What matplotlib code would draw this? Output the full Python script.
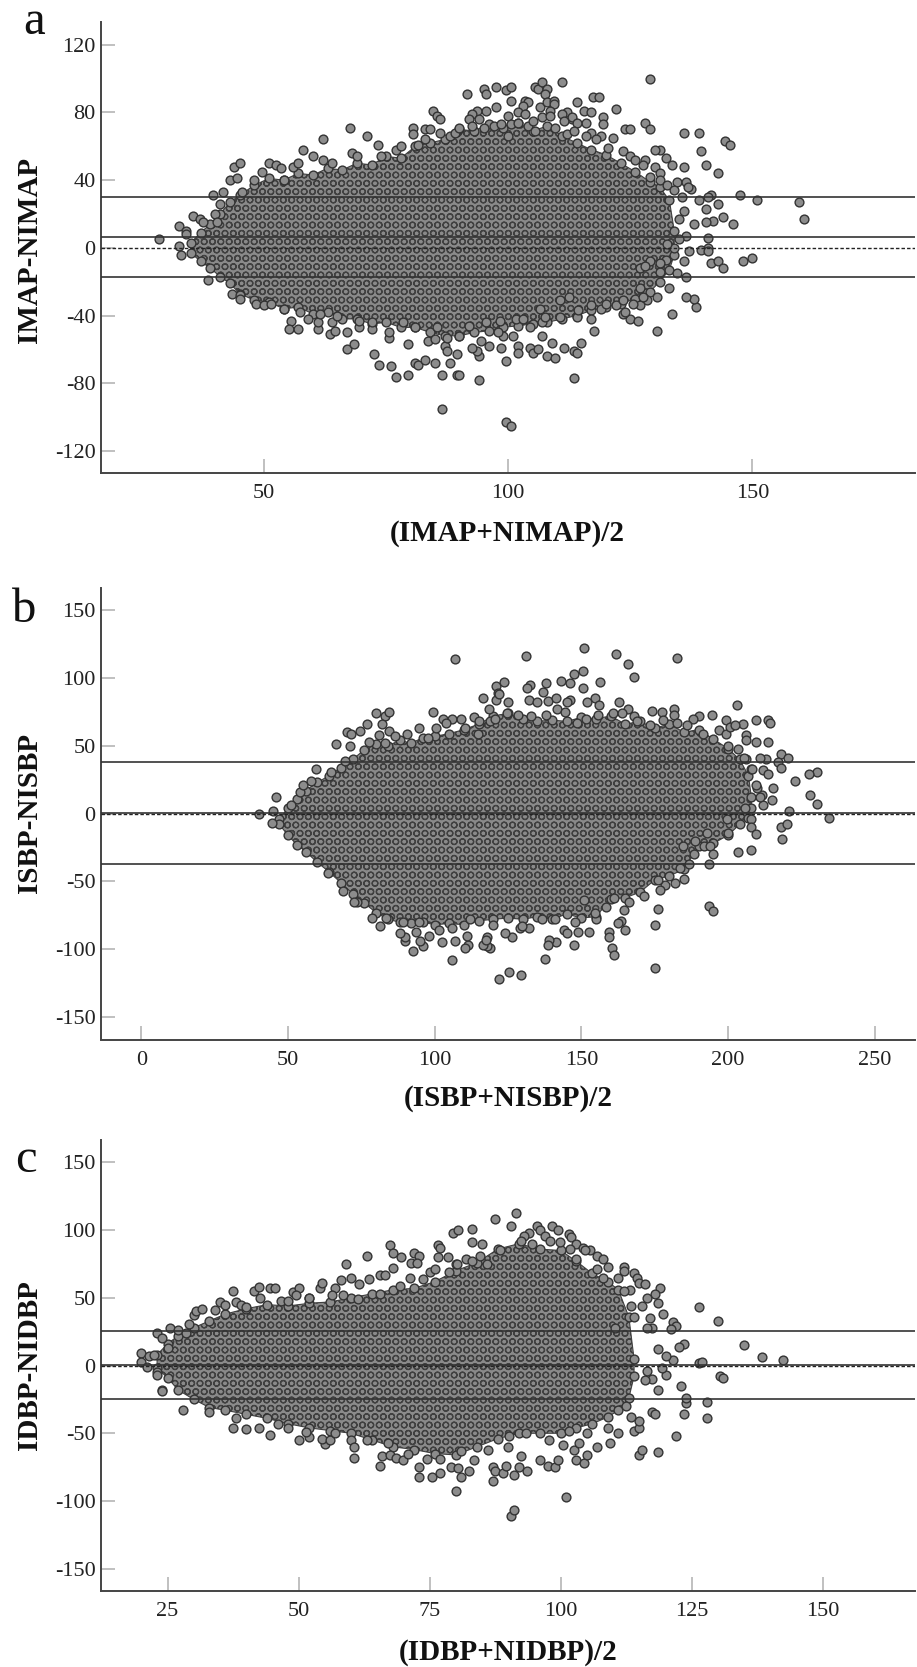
import matplotlib
matplotlib.use('Agg')
from matplotlib import pyplot as plt

plt.rcParams['font.family'] = ['Liberation Serif', 'DejaVu Serif']
plt.rcParams['axes.unicode_minus'] = False
plt.rcParams['hatch.linewidth'] = 0.9
plt.rcParams['hatch.color'] = '#404040'

# Single points (mostly the loose ones round each cloud).
a_points = [
    (28.5,5),(32.5,13),(34,10),(34,8),(32.5,1),(33,-4),(35.4,19),(36.9,17),(37.4,15),(39.5,31),(41.5,33),(40.9,26),
    (43,40),(44.5,41),(43.9,48),(45,50),(45.4,33),(40,20),(40.4,15),(48,40),(49.5,45),(51,50),(52.5,49),(53.5,47),
    (54,40),(56,48),(56.9,50),(58,58),(60,54),(62,64),(62,52),(64,50),(67.5,71),(68,56),(69,54),(71,66),(73.4,61),
    (74,54),(77,58),(78,60),(80.4,71),(80.4,67),(83,70),(84,70),(84.5,81),(85.5,78),(86,76),(86,68),(88,66),(89,68),
    (81.5,61),(83,64),(91.5,91),(95,94),(95.5,91),(97.5,95),(99.5,93),(100.5,95),(105.5,95),(106,94),(107,98),(108,94),
    (107.5,91),(111,98),(100.5,87),(97.5,83),(95.5,81),(93.5,81),(92.5,79),(94,76),(92,76),(100,78),(103.4,87),(104,86),
    (103,84),(106.5,83),(108,86),(109.4,87),(109.4,85),(108.5,81),(114,86),(117.4,89),(118.5,89),(122,82),(115.5,81),
    (117,80),(119.5,77),(119.5,73),(116,74),(112,80),(113,76),(128,74),(129,70),(124,70),(125,70),(129,100),(136,68),
    (139,68),(144.4,63),(145.5,61),(139.5,57),(140.5,49),(136,48),(143,44),(132.4,53),(133.5,49),(131,58),(130,58),
    (121.5,65),(119,66),(117,68),(128,52),(130,48),(131,44),(131,40),(134.5,39),(136.5,39),(137.5,35),(136.8,36),
    (141.5,31),(141,30),(147.4,31),(151,28),(159.5,27),(160.5,17),(143,26),(140.5,23),(139,28),(144,18),(146,14),
    (142,16),(140.5,15),(138,14),(141,6),(136.5,7),(141,0),(139.5,-1),(141,-2),(137,-2),(141.5,-9),(143,-8),(144,-12),
    (148,-8),(150,-6),(136,-8),(134.5,-15),(136.5,-17),(131,-14),(127,-12),(129,-8),(132.4,-7),
    (38.5,-19),(43.4,-27),(45,-28),(45,-30),(48.4,-33),(50,-34),(51.4,-33),(54,-36),(55.5,-43),(55,-48),(57,-48),
    (59,-42),(61,-48),(61,-44),(63.4,-51),(64.5,-49),(64,-44),(67,-50),(67,-60),(68.5,-57),(69.5,-47),(72,-48),
    (72.5,-63),(73.5,-69),(75.5,-53),(76,-70),(77,-76),(79.5,-75),(79.5,-57),(81,-68),(81.5,-69),(83,-66),(83.5,-55),
    (85,-68),(85,-54),(86.5,-75),(86.5,-95),(88,-68),(87,-58),(87.5,-61),(89.5,-75),(89.5,-63),(94,-78),(90,-75),
    (94,-64),(93.5,-61),(92.5,-59),(94.5,-55),(96,-58),(98.5,-59),(99.5,-67),(99.5,-103),(100.5,-105),(102,-58),
    (102,-62),(104.5,-59),(105,-62),(106,-60),(108,-64),(109.5,-65),(111.5,-59),(113.5,-61),(114,-62),(113.5,-77),
    (109,-56),(115,-56),(107,-52),(101,-52),(99,-52),(98,-50),(104.5,-47),(117.5,-49),(130.5,-49),(133.5,-39),(125,-42),
    (126.5,-43),(123.5,-39),(124,-38),(138.5,-35),(138,-30),(136.5,-29),(130.5,-29),(133,-24),(128.5,-31),(127,-34),
    (127.5,-29),(125.5,-33),(122,-34),(119,-36),(117,-42),(114,-41),(107,-44),(107.5,-41),(112.5,-29),(110.5,-41),(127,-24),
    # fringe of the dense part
    (90,71),(92.5,72),(95,71),(97,72),(98.5,73),(100.5,73),(102,80),(103.4,79),(102,74),(104,72),(105,75),(105.5,69),
    (109.5,71),(111,79),(111.5,75),(113,77),(114,74),(112,67),(113.5,69),(116,66),(118,64),(120.5,59),(123.5,57),(125,54),
    (126,52),(127.5,49),(129,42),(132.5,37),(134,34),(135.5,30),(136,22),(135,17),(135,5),(134,0),(132.5,2),(131,-9),
    (128,-11),(107,77),(108.5,78),(100,66),(57.4,-38),(61.5,-39),(65,-40),(69.5,-43),(72,-44),(75.5,-50),(78.5,-44),
    (81,-47),(85.4,-47),(87.4,-53),(90,-52),(92,-46),(95.5,-44),(98.3,-43),(101.5,-42),(103,-42),(106.5,-36),(110.6,-31),
    (114.3,-37),(117,-34),(120,-33),(123.5,-31),
]
b_points = [
    (40,0),(45,2),(46,12),(44.5,-7),(51,6),(54,16),(55,21),(57.7,24),(59.5,33),(64.5,31),(66.5,51),(71,50),(70,60),
    (71.5,59),(74.5,61),(77,66),(80,74),(83,72),(84.5,75),(82,66),(81,58),(77.5,53),(83,52),(84.5,61),(69.5,39),(107,114),
    (99.5,75),(100.5,63),(103,70),(106,70),(109,70),(113.5,71),(115,68),(116.5,85),(118.5,77),(121,94),(121.7,89),(121,84),
    (94.5,63),(90.5,59),(86.5,57),(131,116),(151,122),(162,118),(182.5,115),(166,110),(168,101),(150.5,105),(147.5,103),
    (150.5,93),(156.5,97),(143,98),(146,96),(138,96),(132.5,95),(131.5,93),(123.5,97),(137,90),(132,84),(125,82),(135,82),
    (138.5,83),(141.5,85),(146,84),(145,82),(154.5,85),(152,82),(156,80),(163,82),(122,88),(203,80),(174,76),(177.5,75),
    (181.5,77),(181.5,73),(190,72),(194.5,73),(199.5,69),(205,66),(209.5,69),(213.5,69),(214.5,67),(206,58),(206,54),
    (209.5,53),(213.5,53),(203.5,48),(200,50),(197,62),(218,44),(220.5,41),(217,38),(218,34),(230.5,31),(227.5,29),(223,24),
    (215.5,19),(228,14),(230.5,7),(215,10),(212,6),(221,2),(234.5,-3),(218,-10),(220,-8),(218.5,-19),(208,-4),(208,-10),
    (209.5,-15),(200,-14),(208,-27),(192,-24),(194,-24),(211.5,14),(210,19),(208,33),(213,40),(211,41),
    (203.5,-28),(195,-30),(193.5,-37),(185,-48),(182,-51),(178.5,-53),(177,-56),(193.5,-68),(195,-72),(176,-70),(175,-82),
    (175,-114),(165,-86),(163.5,-79),(162.5,-81),(159.5,-87),(159.5,-91),(160.5,-99),(161,-104),(147.5,-97),(149,-87),
    (152.5,-87),(144,-86),(145,-88),(141.5,-95),(139,-93),(138.5,-97),(137.5,-107),(132,-84),(129,-84),(129.5,-119),
    (125.5,-117),(122,-122),(126.5,-91),(124,-88),(119,-99),(118,-98),(116.5,-97),(118,-91),(117.5,-93),(111.5,-97),
    (110.5,-99),(111,-90),(106,-108),(107,-94),(102.5,-95),(98,-90),(96,-98),(95,-94),(92.5,-101),(90,-94),(90,-91),
    (88,-88),(93.5,-87),(81.5,-83),(78.5,-77),(158.5,-69),(164.5,-71),(155,-78),(141,-78),(73.5,-65),
    # fringe of the dense part
    (97.8,56),(104,67),(110.3,63),(114.8,59),(118.8,68),(120.5,70),(124.5,74),(128.5,73),(133,72),(138,73),(141.7,77),
    (144.4,75),(148.5,67),(151.7,70),(155.7,73),(160.8,74),(166,77),(164,74),(168,72),(169,68),(173.3,65),(178,69),
    (182.5,67),(188,70),(186,65),(191.5,59),(199.5,59),(200.6,64),(202.3,65),(206.3,40),(205.5,41),(208.3,33),(212,32),
    (213.5,29),(209.7,21),(211,12),(205.8,4),(199.8,-4),(192.7,-14),(188.7,-20),(184.7,-24),(188.3,-30),(186.7,-37),
    (183.7,-40),(176,-49),(171.5,-61),(166.2,-65),(161,-62),(154.8,-73),(151,-64),(148,-80),(136.5,-78),(129.7,-83),
    (119.8,-82),(112.2,-78),(106,-84),(101.5,-86),(94.7,-80),(89.3,-80),(83.3,-77),(72.6,-65),(68.8,-57),(63.5,-44),
]
c_points = [
    (20,9),(20,3),(21.5,7),(21,-1),(22.5,8),(23,24),(24,20),(23,-5),(23,-7),(24,-18),(25.5,28),(25,13),(27,26),(28.5,24),
    (29,31),(30,37),(30.5,40),(31.5,42),(34,41),(35,47),(36,45),(37.5,55),(38,47),(39,45),(41.5,55),(42.5,58),(44.5,57),
    (45.5,57),(49,54),(50,57),(49.5,52),(52,50),(54,57),(54.5,61),(57,57),(58,63),(59,75),(60,65),(63,81),(63.5,64),
    (61.5,60),(67.5,89),(68,83),(69.5,80),(68,72),(72,83),(73,81),(71.5,76),(72.5,76),(65.5,67),(66.5,67),(76.5,89),
    (77,87),(76.5,80),(78.5,80),(79.5,98),(80.5,100),(83,101),(83,91),(85,90),(80,75),(75,69),(82,79),
    (87.4,108),(91.5,113),(90.5,103),(95.4,103),(96,100),(98.4,103),(99.5,100),(101.5,97),(94,98),(93,96),(102,95),
    (103,90),(104.3,87),(105.5,85),(107,81),(108,79),(109,73),(112,73),(112,70),(114,68),(114.5,65),(115,61),(116,60),
    (119,57),(118,53),(116.5,50),(118.5,46),(115.5,44),(119.5,38),(117,35),(121.5,32),(122,29),(121,27),(117.5,28),
    (116.4,28),(123.5,16),(122.5,14),(126.4,43),(130,33),(135,15),(138.5,6),(142.5,4),(126.4,2),(121.5,4),(120,7),
    (118.5,12),(130.4,-8),(131,-9),(123,-15),(120,-7),(119.4,-2),(117.4,-10),(118.5,-18),(116.4,-4),(116,-11),
    (24,-19),(28,-33),(33,-34),(37.5,-46),(38,-39),(40,-47),(42.5,-46),(44.5,-51),(46,-43),(48,-46),(50,-55),(52,-53),
    (51.5,-49),(55,-58),(54.5,-54),(56,-55),(57,-50),(60,-55),(60.5,-60),(60.5,-68),(65.5,-74),(66,-67),(67.5,-66),
    (68.5,-68),(70,-70),(73,-75),(73,-82),(75.5,-82),(77,-79),(79,-75),(80,-93),(81,-82),(80.5,-76),(82.5,-78),(83.5,-70),
    (87,-75),(87,-85),(87.5,-78),(89,-79),(89.5,-74),(91,-81),(90.5,-111),(91,-107),(92,-75),(93.5,-78),(101,-97),
    (92.5,-67),(90,-60),(96,-70),(97.5,-74),(99,-75),(99.5,-70),(103,-70),(104.5,-72),(105,-66),(102.5,-62),(103.5,-57),
    (100.5,-59),(107,-60),(109.5,-57),(111,-50),(115,-66),(115.5,-62),(118.5,-64),(122,-52),(114,-48),(115,-46),(115,-41),
    (113.5,-38),(117.5,-34),(118,-36),(124,-28),(123.5,-36),(128,-27),(128,-39),(124,-24),(127,3),
    # fringe of the dense part
    (40,43),(42.6,50),(46.7,48),(48,48),(52,50),(56.3,52),(58.5,52),(61.4,49),(65.5,53),(69.3,59),(71.2,65),(73.8,64),
    (76,71),(78.6,69),(80.2,75),(83,77),(84.6,81),(85.9,75),(88.4,85),(92.5,92),(94.5,90),(97,96),(98,92),(99.9,91),
    (101.8,86),(104.6,85),(103,79),(106.9,71),(108,65),(111,65),(113.2,56),(112,55),(113.5,44),(113.9,36),(110.4,28),
    (63.1,-55),(67.1,-57),(70.8,-65),(74.5,-69),(77,-69),(81,-63),(86.1,-62),(90.2,-52),(93.4,-50),(97.8,-55),(101.5,-48),
    (105.1,-50),(109.1,-46),(112.4,-30),
]

# Outline of the solid part of each cloud, read column by column. The points
# there overlap too much to read one by one, so it is drawn as a filled shape.
a_core_x = [35,37,39,41,43,45,48,51,54,57,60,63,66,69,72,75,78,81,84,87,90,93,96,99,102,105,108,111,114,117,120,123,126,129,131,133,134]
a_core_hi = [3,9,14,20,27,31,37,41,40,44,43,47,46,50,49,54,53,60,62,64,70,69,73,71,74,69,72,66,62,58,55,50,45,39,36,28,10]
a_core_lo = [-3,-8,-12,-17,-21,-27,-31,-32,-36,-35,-39,-38,-42,-42,-45,-44,-47,-47,-50,-52,-52,-50,-49,-47,-46,-45,-44,-42,-40,-37,-35,-33,-30,-26,-20,-13,-4]

b_core_x = [47,50,53,56,60,64,68,72,76,80,84,88,92,96,100,105,110,115,120,125,130,135,140,145,150,155,160,165,170,175,180,185,190,195,200,204,207,208]
b_core_hi = [-4,4,11,17,23,28,34,40,47,51,50,54,52,56,57,59,62,66,72,74,70,68,69,68,71,70,72,66,68,63,66,60,62,55,48,40,28,12]
b_core_lo = [-8,-16,-23,-28,-36,-43,-51,-59,-66,-73,-78,-80,-81,-80,-82,-81,-82,-79,-78,-77,-78,-76,-78,-74,-77,-76,-63,-62,-58,-49,-46,-41,-24,-22,-16,-8,-3,4]

c_core_x = [23,25,27,30,33,36,40,44,48,52,56,60,64,68,72,76,80,84,88,92,96,100,103,106,109,111,113,114]
c_core_hi = [8,16,22,28,33,38,42,45,44,46,47,50,53,56,57,62,70,76,86,90,86,85,77,68,62,56,36,5]
c_core_lo = [-2,-9,-18,-25,-31,-33,-36,-39,-43,-46,-48,-50,-55,-60,-62,-65,-66,-60,-54,-50,-50,-50,-46,-43,-38,-33,-24,-8]

a_lines = [30, 6.3, -17.5]
b_lines = [38.2, 0.5, -37.3]
c_lines = [25.9, 0.5, -24.5]

a_xticks = [50, 100, 150]
a_yticks = [120, 80, 40, 0, -40, -80, -120]
b_xticks = [0, 50, 100, 150, 200, 250]
b_yticks = [150, 100, 50, 0, -50, -100, -150]
c_xticks = [25, 50, 75, 100, 125, 150]
c_yticks = [150, 100, 50, 0, -50, -100, -150]

W, H = 917, 1667
fig = plt.figure(figsize=(W / 100, H / 100), dpi=100)


def panel(top, bottom, points, core_x, core_hi, core_lo, lines, xticks, yticks, xlim, ylim):
    ax = fig.add_axes([101 / W, 1 - bottom / H, 814 / W, (bottom - top) / H])
    ax.fill_between(core_x, core_hi, core_lo, facecolor='#8a8a8a', edgecolor='#404040',
                    hatch='OO', linewidth=0.8, zorder=2)
    # the edge of the solid part is made of circles as well
    ax.scatter(core_x + core_x, core_hi + core_lo, s=40, c='#8c8c8c', edgecolors='#333333',
               linewidths=1.0, zorder=3)
    ax.scatter([p[0] for p in points], [p[1] for p in points], s=40, c='#8c8c8c',
               edgecolors='#333333', linewidths=1.0, zorder=3)
    for value in lines:
        ax.axhline(value, color='#333333', lw=1.2, zorder=4)
    ax.axhline(0, color='#222222', lw=1.0, ls=(0, (2.5, 1.5)), zorder=4)
    ax.set_xlim(xlim)
    ax.set_ylim(ylim)
    ax.set_xticks(xticks)
    ax.set_yticks(yticks)
    ax.tick_params(axis='both', direction='in', length=10, width=1.2, color='#b5b5b5',
                   labelsize=16, labelcolor='#222222')
    ax.tick_params(axis='x', pad=8)
    ax.tick_params(axis='y', pad=4)
    for side in ['top', 'right']:
        ax.spines[side].set_visible(False)
    for side in ['left', 'bottom']:
        ax.spines[side].set_color('#444444')
        ax.spines[side].set_linewidth(1.4)
    return ax


panel(22, 473, a_points, a_core_x, a_core_hi, a_core_lo, a_lines, a_xticks, a_yticks, (16.6, 183.3), (-133, 133.4))
panel(588, 1039.5, b_points, b_core_x, b_core_hi, b_core_lo, b_lines, b_xticks, b_yticks, (-13.8, 263.8), (-166.6, 166.4))
panel(1140, 1591, c_points, c_core_x, c_core_hi, c_core_lo, c_lines, c_xticks, c_yticks, (12.3, 167.6), (-166.5, 166.6))


def label(x, y, text, **kw):
    fig.text(x / W, 1 - y / H, text, ha='center', va='center', color='#111111', **kw)


label(507, 533, '(IMAP+NIMAP)/2', fontsize=21, fontweight='bold')
label(508, 1098, '(ISBP+NISBP)/2', fontsize=21, fontweight='bold')
label(508, 1652, '(IDBP+NIDBP)/2', fontsize=21, fontweight='bold')
label(29, 250, 'IMAP-NIMAP', fontsize=21, fontweight='bold', rotation=90)
label(29, 813, 'ISBP-NISBP', fontsize=21, fontweight='bold', rotation=90)
label(29, 1365, 'IDBP-NIDBP', fontsize=21, fontweight='bold', rotation=90)

for x, y, letter in [(34, 34, 'a'), (24, 622, 'b'), (26, 1172, 'c')]:
    fig.text(x / W, 1 - y / H, letter, ha='center', va='baseline', fontsize=35, color='#111111')

fig.savefig('out.png', dpi=100)
